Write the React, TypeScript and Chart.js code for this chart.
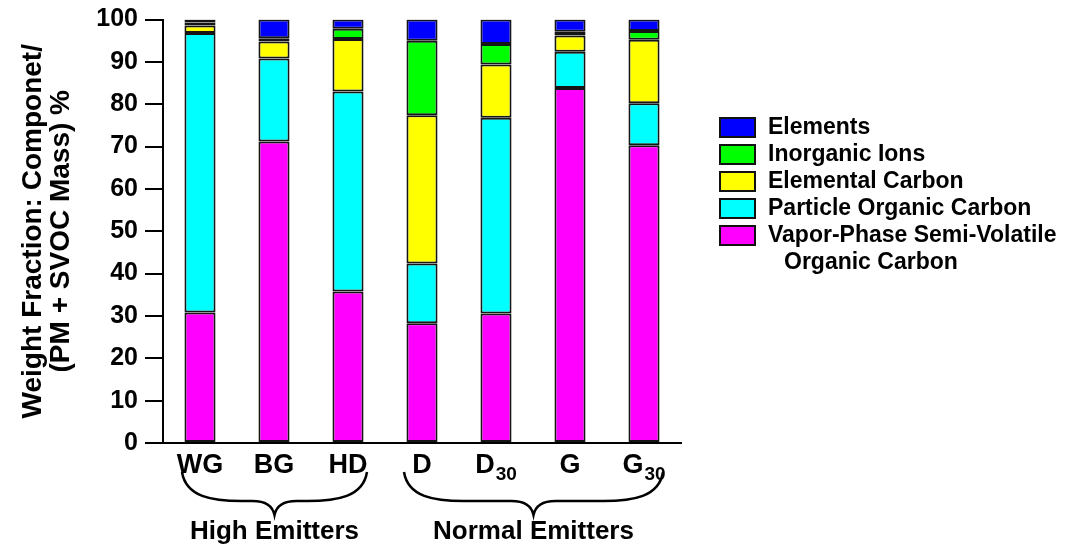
import React, { useEffect, useRef } from 'react';
import { Chart, registerables } from 'chart.js';

Chart.register(...registerables);

// ---- data ----
const categories = ['WG', 'BG', 'HD', 'D', 'D30', 'G', 'G30'];
const categoryMain = ['WG', 'BG', 'HD', 'D', 'D', 'G', 'G'];
const categorySub = ['', '', '', '', '30', '', '30'];

const groupLabels = ['High Emitters', 'Normal Emitters'];
const groupStart = [0, 3];
const groupEnd = [2, 6];

const vaporSVOC = [30.8, 71.2, 35.8, 28.3, 30.6, 83.8, 70.3];
const particleOC = [66.0, 19.6, 47.2, 14.1, 46.2, 8.6, 9.9];
const elementalCarbon = [1.8, 4.0, 12.4, 35.0, 12.6, 3.8, 15.0];
const inorganicIons = [0.7, 0.8, 2.4, 17.6, 4.8, 0.9, 2.1];
const elements = [0.7, 4.4, 2.2, 5.0, 5.8, 2.9, 2.7];

const seriesLabels = [
  'Vapor-Phase Semi-Volatile Organic Carbon',
  'Particle Organic Carbon',
  'Elemental Carbon',
  'Inorganic Ions',
  'Elements',
];
const seriesColors = ['#ff00ff', '#00ffff', '#ffff00', '#00ff00', '#0000ff'];

// legend lines, top to bottom (reverse of stacking order)
const legendLines = [
  ['Elements'],
  ['Inorganic Ions'],
  ['Elemental Carbon'],
  ['Particle Organic Carbon'],
  ['Vapor-Phase Semi-Volatile', 'Organic Carbon'],
];

const yTitle = ['Weight Fraction: Componet/', '(PM + SVOC Mass) %'];

const FONT = '"Liberation Sans", Arial, Helvetica, sans-serif';

const decorPlugin = {
  id: 'decor',
  afterDraw(chart: any) {
    const ctx = chart.ctx;
    const xs = chart.scales.x;
    ctx.save();
    ctx.fillStyle = '#000';
    // category labels with subscripts
    const baseY = 473;
    for (let i = 0; i < categories.length; i++) {
      const cx = xs.getPixelForTick(i);
      ctx.font = `bold 27px ${FONT}`;
      const wMain = ctx.measureText(categoryMain[i]).width;
      ctx.font = `bold 19px ${FONT}`;
      const wSub = categorySub[i] ? ctx.measureText(categorySub[i]).width + 1 : 0;
      const start = cx - (wMain + wSub) / 2;
      ctx.textAlign = 'left';
      ctx.textBaseline = 'alphabetic';
      ctx.font = `bold 27px ${FONT}`;
      ctx.fillText(categoryMain[i], start, baseY);
      if (categorySub[i]) {
        ctx.font = `bold 19px ${FONT}`;
        ctx.fillText(categorySub[i], start + wMain + 1, baseY + 7);
      }
    }
    // braces and group labels
    ctx.strokeStyle = '#000';
    ctx.lineWidth = 2.5;
    for (let g = 0; g < groupLabels.length; g++) {
      const x1 = xs.getPixelForTick(groupStart[g]) - 18;
      const x2 = xs.getPixelForTick(groupEnd[g]) + 19;
      const xm = (x1 + x2) / 2;
      const y0 = 472;
      const yf = 501;
      const yc = 515;
      ctx.beginPath();
      ctx.moveTo(x1, y0);
      ctx.bezierCurveTo(x1 + 4, yf - 4, x1 + 30, yf, x1 + 60, yf);
      ctx.lineTo(xm - 22, yf);
      ctx.quadraticCurveTo(xm - 3, yf, xm, yc);
      ctx.quadraticCurveTo(xm + 3, yf, xm + 22, yf);
      ctx.lineTo(x2 - 60, yf);
      ctx.bezierCurveTo(x2 - 30, yf, x2 - 4, yf - 4, x2, y0);
      ctx.stroke();
      ctx.font = `bold 26px ${FONT}`;
      ctx.textAlign = 'center';
      ctx.textBaseline = 'alphabetic';
      ctx.fillText(groupLabels[g], xm, 539);
    }
    // legend
    const ds = chart.data.datasets;
    let y = 118;
    for (let k = 0; k < legendLines.length; k++) {
      const d = ds[ds.length - 1 - k];
      ctx.fillStyle = d.backgroundColor;
      ctx.fillRect(720, y, 35, 19);
      ctx.strokeStyle = '#111';
      ctx.lineWidth = 2;
      ctx.strokeRect(720, y, 35, 19);
      ctx.fillStyle = '#000';
      ctx.font = `bold 23px ${FONT}`;
      ctx.textAlign = 'left';
      ctx.textBaseline = 'middle';
      const lines = legendLines[k];
      for (let j = 0; j < lines.length; j++) {
        ctx.fillText(lines[j], j === 0 ? 768 : 784, y + 10 + j * 27);
      }
      y += 27;
    }
    ctx.restore();
  },
};

export default function App() {
  const ref = useRef<HTMLCanvasElement | null>(null);
  useEffect(() => {
    if (!ref.current) return;
    const series = [vaporSVOC, particleOC, elementalCarbon, inorganicIons, elements];
    const chart = new Chart(ref.current, {
      type: 'bar',
      data: {
        labels: categories,
        datasets: series.map((vals, i) => ({
          label: seriesLabels[i],
          data: vals,
          backgroundColor: seriesColors[i],
          borderColor: '#151515',
          borderWidth: 2,
          borderSkipped: false,
          barPercentage: 0.42,
          categoryPercentage: 1,
        })),
      },
      options: {
        animation: false,
        responsive: false,
        maintainAspectRatio: false,
        layout: { padding: { top: 13, right: 399, bottom: 0, left: 0 } },
        plugins: {
          legend: { display: false },
          tooltip: { enabled: false },
        },
        scales: {
          x: {
            stacked: true,
            grid: { display: false },
            border: { display: true, color: '#000', width: 2 },
            ticks: { display: false },
            afterFit: (s: any) => {
              s.height = 104;
            },
          },
          y: {
            stacked: true,
            min: 0,
            max: 100,
            grid: {
              display: true,
              drawOnChartArea: false,
              drawTicks: true,
              tickLength: 18,
              color: '#000',
              lineWidth: 2,
            },
            border: { display: true, color: '#000', width: 2 },
            ticks: {
              stepSize: 10,
              color: '#000',
              padding: 7,
              font: { family: FONT, size: 25, weight: 'bold', lineHeight: 1.0 },
            },
            title: {
              display: true,
              text: yTitle,
              color: '#000',
              font: { family: FONT, size: 28, weight: 'bold', lineHeight: 1.0 },
              padding: { top: 19, bottom: 0 },
            },
            afterFit: (s: any) => {
              s.width = 163;
            },
          },
        },
      },
      plugins: [decorPlugin],
    });
    return () => chart.destroy();
  }, []);
  return (
    <div style={{ position: 'fixed', left: 0, top: 0, width: 1080, height: 547, background: '#fff' }}>
      <canvas ref={ref} width={1080} height={547} style={{ width: 1080, height: 547 }} />
    </div>
  );
}
